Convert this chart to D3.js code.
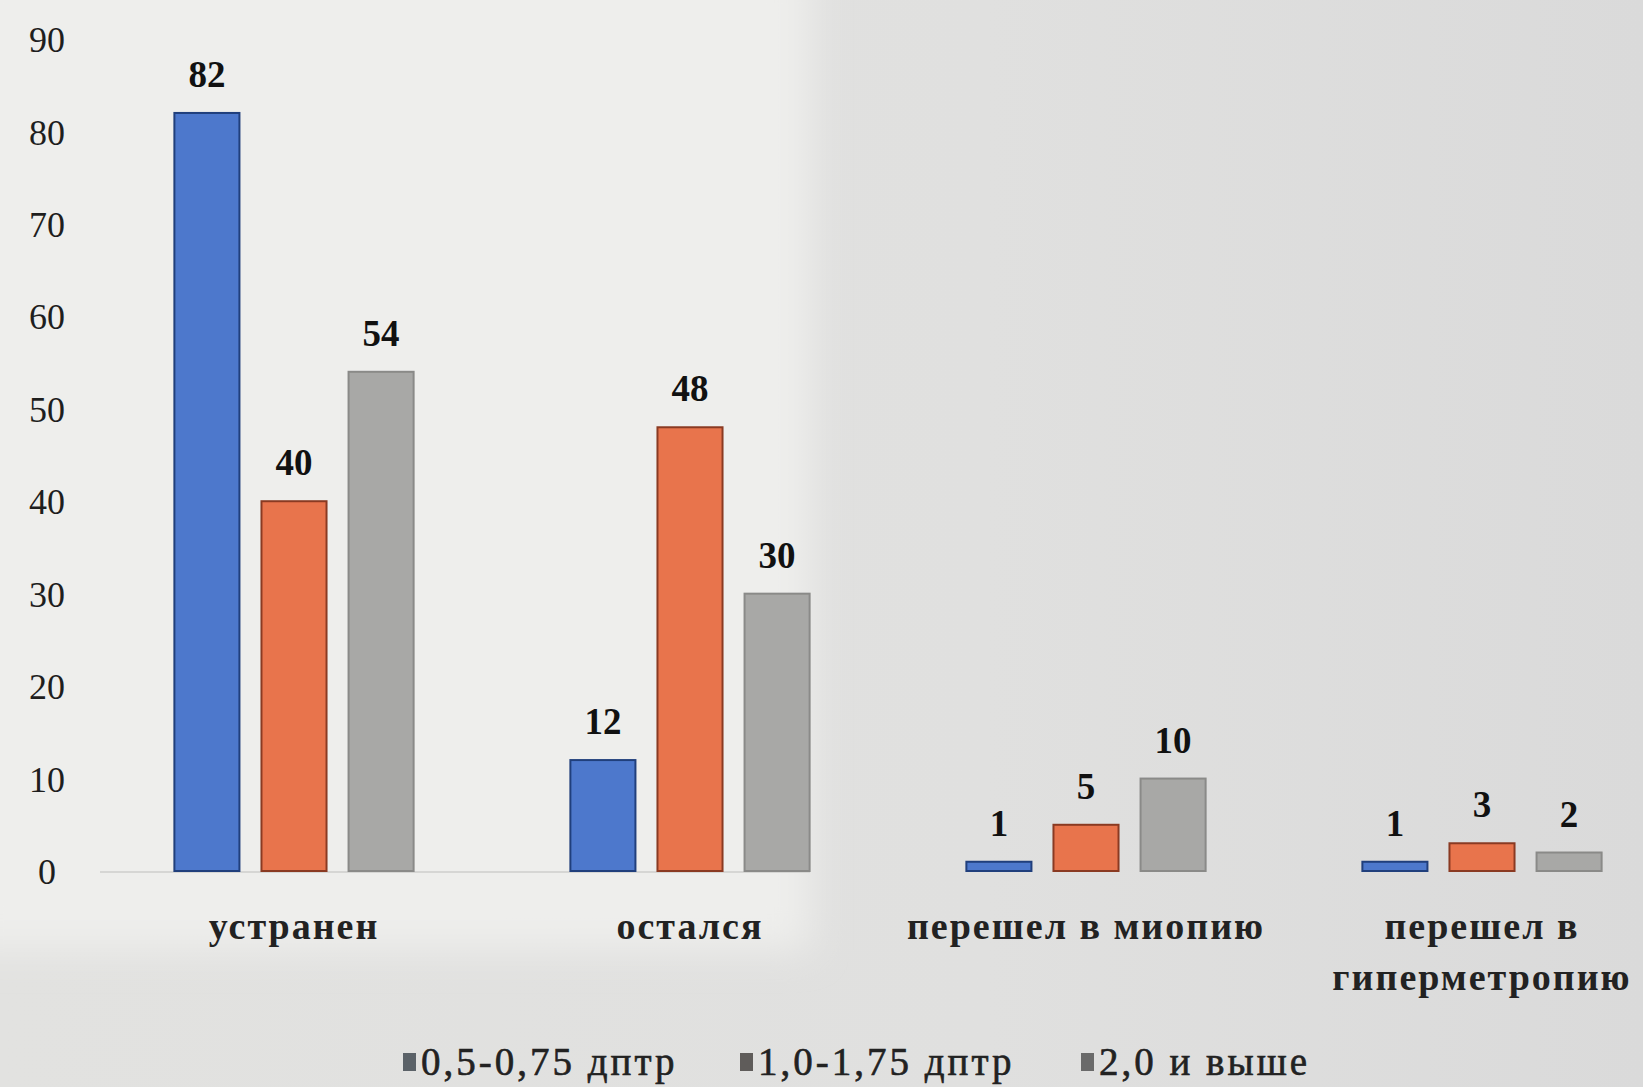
<!DOCTYPE html>
<html>
<head>
<meta charset="utf-8">
<script src="https://cdn.jsdelivr.net/npm/d3@7"></script>
<style>
  html, body { margin: 0; padding: 0; background: #e4e4e2; }
  svg { display: block; }
</style>
</head>
<body>
<svg id="chart" width="1643" height="1087"></svg>
<script>
// Outcome categories on the x axis
const categories = ["устранен", "остался", "перешел в миопию", "перешел в гиперметропию"];
// Wrapped label lines for each category
const categoryLines = [["устранен"], ["остался"], ["перешел в миопию"], ["перешел в", "гиперметропию"]];
// Series (astigmatism degree groups)
const seriesNames = ["0,5-0,75 дптр", "1,0-1,75 дптр", "2,0 и выше"];
const seriesLow  = [82, 12, 1, 1];
const seriesMid  = [40, 48, 5, 3];
const seriesHigh = [54, 30, 10, 2];
const yTicks = [0, 10, 20, 30, 40, 50, 60, 70, 80, 90];

const seriesValues = [seriesLow, seriesMid, seriesHigh];
const fills   = ["#4d78cc", "#e8744c", "#a8a8a6"];
const strokes = ["#203f7c", "#8a3a22", "#8a8a88"];
const legendFills = ["#5b6268", "#5f5c5a", "#6a6a6a"];
const serif = "'Liberation Serif', 'DejaVu Serif', serif";

const svg = d3.select("#chart");
const W = 1643, H = 1087;

// Paper background: lighter printed area on the left, greyer on the right
const defs = svg.append("defs");
const blur = defs.append("filter").attr("id", "soft").attr("x", "-20%").attr("y", "-20%").attr("width", "140%").attr("height", "140%");
blur.append("feGaussianBlur").attr("stdDeviation", 18);
const grad = defs.append("linearGradient").attr("id", "bgGrad").attr("x1", 0).attr("x2", 1).attr("y1", 0).attr("y2", 0);
grad.append("stop").attr("offset", "0%").attr("stop-color", "#e2e2e0");
grad.append("stop").attr("offset", "60%").attr("stop-color", "#e0e0df");
grad.append("stop").attr("offset", "100%").attr("stop-color", "#dadada");
svg.append("rect").attr("width", W).attr("height", H).attr("fill", "url(#bgGrad)");
svg.append("rect").attr("x", -40).attr("y", -40).attr("width", 850).attr("height", 990)
  .attr("fill", "#eeeeec").attr("filter", "url(#soft)");

const y = d3.scaleLinear().domain([0, 90]).range([871, 39]);
const x0 = d3.scaleBand().domain(categories).range([96, 96 + 4 * 396]).padding(0);
const x1 = d3.scaleBand().domain(d3.range(seriesNames.length)).range([0, x0.bandwidth()])
  .paddingInner(0.253).paddingOuter(0.9);

// Y axis tick labels (no axis line, no tick marks)
const yAxis = svg.append("g").attr("transform", "translate(64,0)")
  .call(d3.axisLeft(y).tickValues(yTicks).tickSize(0).tickPadding(0));
yAxis.select(".domain").remove();
yAxis.selectAll("text")
  .attr("x", -17)
  .attr("text-anchor", "middle")
  .attr("dy", "0.35em")
  .style("font-family", serif)
  .style("font-size", "36px")
  .style("fill", "#1e1e1e");

// Baseline
svg.append("line")
  .attr("x1", 100).attr("x2", 810)
  .attr("y1", y(0) + 1).attr("y2", y(0) + 1)
  .attr("stroke", "#d6d6d4").attr("stroke-width", 2);

// Bars with value labels
const groups = svg.append("g").selectAll("g")
  .data(categories)
  .join("g")
  .attr("transform", d => `translate(${x0(d)},0)`);

groups.each(function(cat, ci) {
  const g = d3.select(this);
  seriesValues.forEach((vals, si) => {
    const v = vals[ci];
    g.append("rect")
      .attr("x", x1(si))
      .attr("y", y(v))
      .attr("width", x1.bandwidth())
      .attr("height", y(0) - y(v))
      .attr("fill", fills[si])
      .attr("stroke", strokes[si])
      .attr("stroke-width", 2);
    g.append("text")
      .attr("x", x1(si) + x1.bandwidth() / 2)
      .attr("y", y(v) - 26)
      .attr("text-anchor", "middle")
      .style("font-family", serif)
      .style("font-weight", "bold")
      .style("font-size", "37px")
      .style("fill", "#111")
      .text(v);
  });
});

// Category labels
categories.forEach((cat, ci) => {
  const t = svg.append("text")
    .attr("text-anchor", "middle")
    .style("font-family", serif)
    .style("font-weight", "bold")
    .style("font-size", "38px")
    .style("letter-spacing", "2px")
    .style("fill", "#222");
  categoryLines[ci].forEach((line, li) => {
    t.append("tspan")
      .attr("x", x0(cat) + x0.bandwidth() / 2)
      .attr("y", 939 + li * 51)
      .text(line);
  });
});

// Legend
const legendX = [403, 740, 1081];
const legend = svg.append("g");
seriesNames.forEach((name, i) => {
  legend.append("rect")
    .attr("x", legendX[i]).attr("y", 1053)
    .attr("width", 13).attr("height", 18)
    .attr("fill", legendFills[i]);
  legend.append("text")
    .attr("x", legendX[i] + 18).attr("y", 1075)
    .style("font-family", serif)
    .style("font-size", "39px")
    .style("letter-spacing", "3px")
    .style("stroke", "#222").style("stroke-width", 0.6)
    .style("fill", "#222")
    .text(name);
});
</script>
</body>
</html>
